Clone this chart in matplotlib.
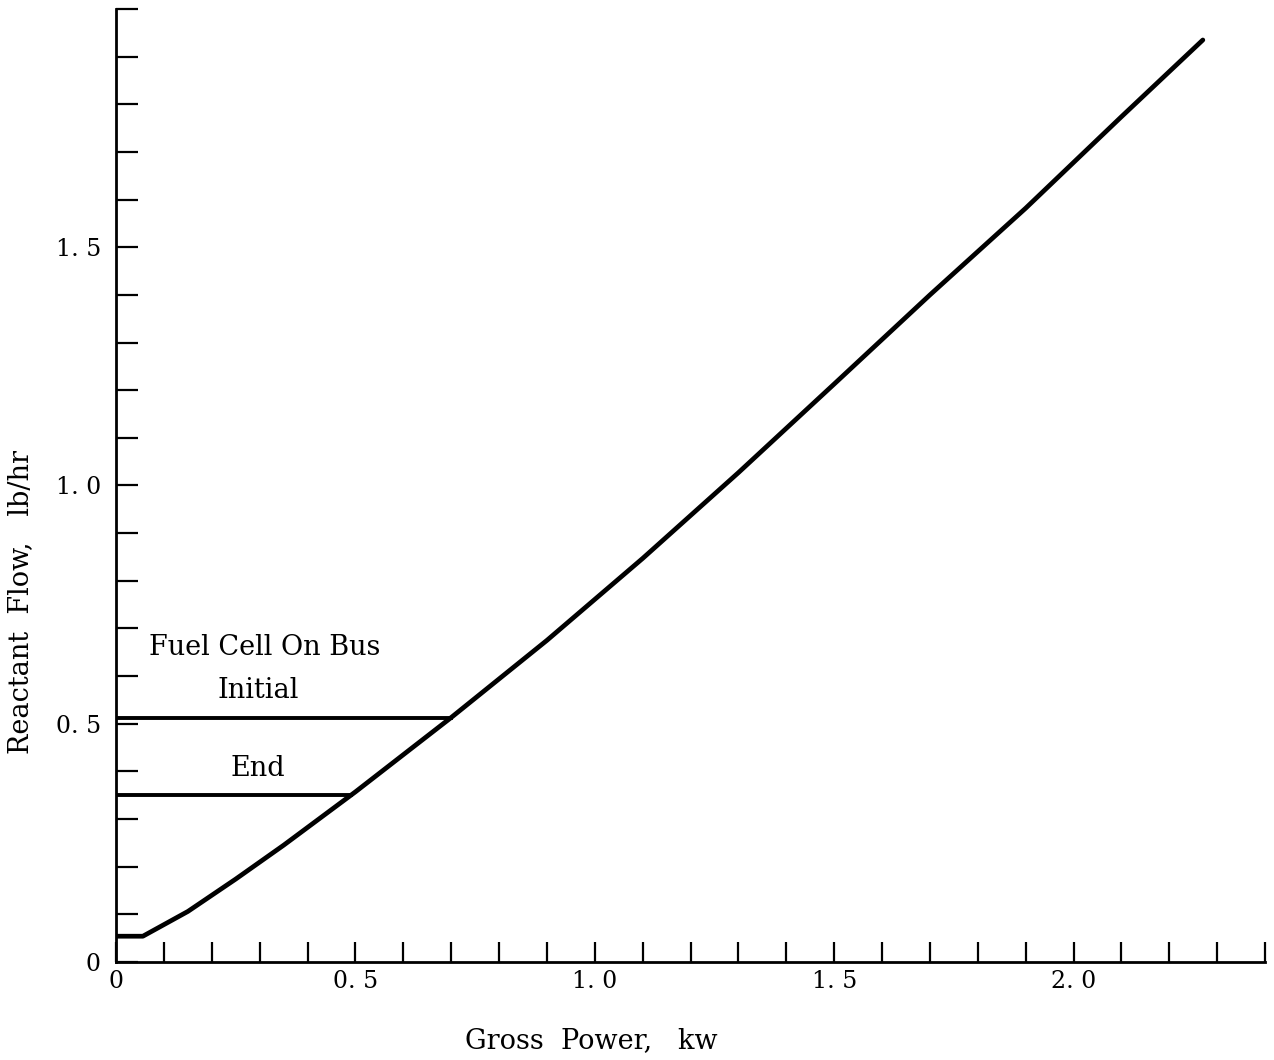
import numpy as np
import matplotlib
matplotlib.use("Agg")
import matplotlib.pyplot as plt
from matplotlib.ticker import MultipleLocator, FuncFormatter

# Reactant flow vs. gross power
gross_power_kw = [0.0, 0.056, 0.15, 0.25, 0.35, 0.5, 0.7, 0.9, 1.1, 1.3, 1.5, 1.7, 1.9, 2.1, 2.27]
reactant_flow = [0.054, 0.054, 0.106, 0.174, 0.245, 0.357, 0.513, 0.675, 0.847, 1.027,
                 1.213, 1.400, 1.582, 1.774, 1.935]

# Fuel-cell-on-bus levels
bus_labels = ["Initial", "End"]
bus_flow = [0.513, 0.350]

x_major = [0.0, 0.5, 1.0, 1.5, 2.0]
y_major = [0.0, 0.5, 1.0, 1.5]

plt.rcParams["font.family"] = ["DejaVu Serif"]

fig = plt.figure(figsize=(12.74, 10.60), dpi=100)
ax = fig.add_axes([0.0911, 0.0925, 0.993 - 0.0911, 0.9915 - 0.0925])

ax.plot(gross_power_kw, reactant_flow, color="black", lw=3.4,
        solid_capstyle="round", solid_joinstyle="round")

for lab, flow in zip(bus_labels, bus_flow):
    x_end = np.interp(flow, reactant_flow[1:], gross_power_kw[1:])
    ax.plot([0, x_end], [flow, flow], color="black", lw=2.8)
    ax.text(0.297, flow + 0.057, lab, ha="center", va="center", fontsize=19.5)

ax.text(0.068, 0.661, "Fuel Cell On Bus", ha="left", va="center", fontsize=19.5)

ax.set_xlim(0, 2.4)
ax.set_ylim(0, 2.0)

for side in ("top", "right"):
    ax.spines[side].set_visible(False)
for side in ("left", "bottom"):
    ax.spines[side].set_linewidth(2.0)

ax.set_xticks(x_major)
ax.set_yticks(y_major)
ax.xaxis.set_minor_locator(MultipleLocator(0.1))
ax.yaxis.set_minor_locator(MultipleLocator(0.1))

fmt = FuncFormatter(lambda v, p: "0" if abs(v) < 1e-9 else f"{v:.1f}".replace(".", ". "))
ax.xaxis.set_major_formatter(fmt)
ax.yaxis.set_major_formatter(fmt)

ax.tick_params(axis="x", which="both", direction="in", length=14.5, width=1.6,
               labelsize=17, pad=6)
ax.tick_params(axis="y", which="both", direction="in", length=16, width=1.6,
               labelsize=17, pad=11)

ax.set_xlabel("Gross  Power,   kw", fontsize=19.5)
ax.xaxis.set_label_coords(0.414, -0.068)
ax.set_ylabel("Reactant  Flow,   lb/hr", fontsize=19.5)
ax.yaxis.set_label_coords(-0.0714, 0.378)

fig.savefig("out.png", dpi=100, facecolor="white")
